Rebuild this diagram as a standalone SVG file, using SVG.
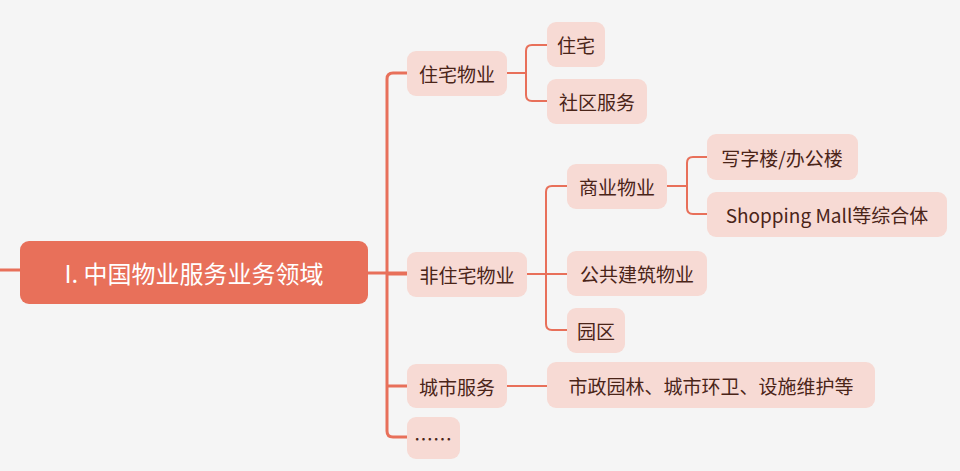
<svg xmlns="http://www.w3.org/2000/svg" width="960" height="471" viewBox="0 0 960 471">
<style>
.n{fill:#F7DAD4}
.t{font-family:"Noto Sans CJK SC","Noto Sans",sans-serif;font-size:19px;fill:#4a2418;dominant-baseline:central}
.c{fill:none;stroke:#E8705A;stroke-width:2}
.m{fill:none;stroke:#E8705A;stroke-width:3}
</style>
<rect width="960" height="471" fill="#F5F5F5"/>
<g id="connectors">
<path class="m" d="M0 270H20M368 273H407M397 73H393Q387 73 387 79V431Q387 437 393 437H407M387 274H407M387 386H407"/>
<path class="m" d="M397 73H407"/>
<path class="c" d="M507 73H526M547 45H532Q526 45 526 51V95Q526 101 532 101H547"/>
<path class="c" d="M527 274H567M567 186H552Q546 186 546 192V324Q546 330 552 330H567"/>
<path class="c" d="M667 186H687M707 157H693Q687 157 687 163V208Q687 214 693 214H707"/>
<path class="c" d="M507 386H547"/>
</g>
<g id="root"><rect x="20" y="241" width="348" height="63" rx="9" fill="#E8705A"/><text x="194" y="272" text-anchor="middle" class="t" style="fill:#fff;font-size:24px">I. 中国物业服务业务领域</text></g>
<g id="n1"><rect class="n" x="407" y="51" width="100" height="45" rx="9"/><text class="t" x="457" y="73" text-anchor="middle">住宅物业</text></g>
<g id="n2"><rect class="n" x="407" y="252" width="120" height="45" rx="9"/><text class="t" x="467" y="274" text-anchor="middle">非住宅物业</text></g>
<g id="n3"><rect class="n" x="407" y="364" width="100" height="44" rx="9"/><text class="t" x="457" y="386" text-anchor="middle">城市服务</text></g>
<g id="n4"><rect class="n" x="407" y="417" width="53" height="42" rx="9"/><text class="t" x="433" y="438" text-anchor="middle">……</text></g>
<g id="n11"><rect class="n" x="547" y="22" width="58" height="45" rx="9"/><text class="t" x="576" y="44" text-anchor="middle">住宅</text></g>
<g id="n12"><rect class="n" x="547" y="79" width="100" height="45" rx="9"/><text class="t" x="597" y="101" text-anchor="middle">社区服务</text></g>
<g id="n21"><rect class="n" x="567" y="164" width="100" height="45" rx="9"/><text class="t" x="617" y="186" text-anchor="middle">商业物业</text></g>
<g id="n22"><rect class="n" x="567" y="251" width="140" height="45" rx="9"/><text class="t" x="637" y="273" text-anchor="middle">公共建筑物业</text></g>
<g id="n23"><rect class="n" x="567" y="308" width="58" height="45" rx="9"/><text class="t" x="596" y="330" text-anchor="middle">园区</text></g>
<g id="n211"><rect class="n" x="707" y="134" width="151" height="46" rx="9"/><text class="t" x="782" y="157" text-anchor="middle">写字楼/办公楼</text></g>
<g id="n212"><rect class="n" x="707" y="192" width="240" height="45" rx="9"/><text class="t" x="827" y="214" text-anchor="middle">Shopping Mall等综合体</text></g>
<g id="n31"><rect class="n" x="547" y="362" width="328" height="46" rx="9"/><text class="t" x="711" y="385" text-anchor="middle">市政园林、城市环卫、设施维护等</text></g>
</svg>
